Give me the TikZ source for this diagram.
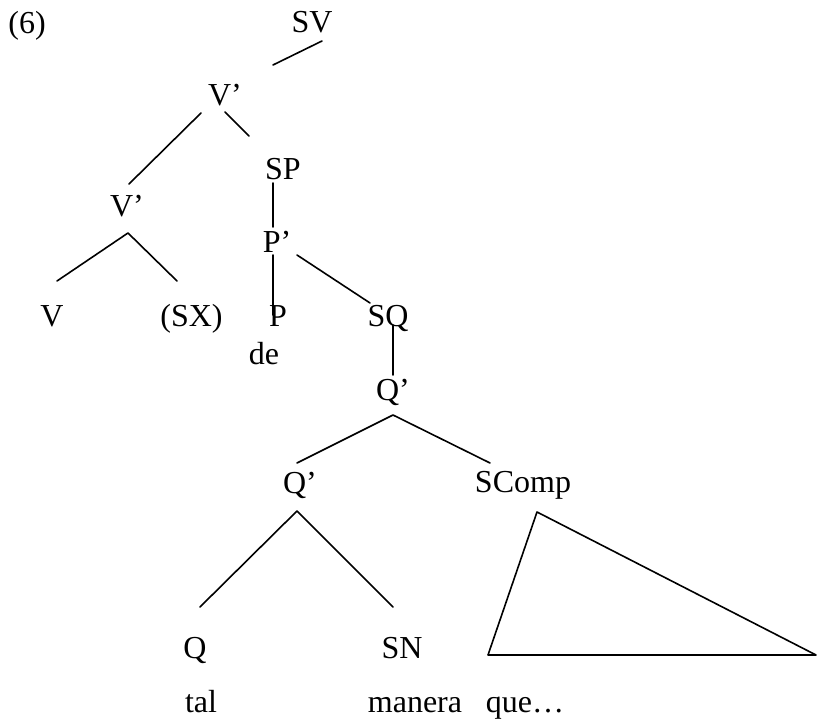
\documentclass[tikz,border=0pt]{standalone}
\usepackage{fontspec}
\setmainfont{Liberation Serif}
\begin{document}
\begin{tikzpicture}[x=1pt,y=1pt,
  lbl/.style={anchor=base,inner sep=0pt,font=\fontsize{32}{38}\selectfont},
  edge/.style={line width=1.6pt,line cap=round,line join=round}]
\useasboundingbox (0,0) rectangle (817,720);
% labels (x, 720 - baseline)
\node[lbl] (ex)   at (27,686) {(6)};
\node[lbl] (sv)   at (312,687) {SV};
\node[lbl] (vb1)  at (225,614) {V’};
\node[lbl] (sp)   at (283,540) {SP};
\node[lbl] (vb2)  at (127,503) {V’};
\node[lbl] (pb)   at (277,467) {P’};
\node[lbl] (v)    at (52,393) {V};
\node[lbl] (sx)   at (191.5,393) {(SX)};
\node[lbl] (p)    at (278,393) {P};
\node[lbl] (sq)   at (388,393) {SQ};
\node[lbl] (de)   at (264,355) {de};
\node[lbl] (qb1)  at (393,319) {Q’};
\node[lbl] (qb2)  at (300,226) {Q’};
\node[lbl] (scomp) at (523,227) {SComp};
\node[lbl] (q)    at (195,61) {Q};
\node[lbl] (sn)   at (402,61) {SN};
\node[lbl] (tal)  at (201,7.5) {tal};
\node[lbl] (man)  at (415,7.5) {manera};
\node[lbl] (que)  at (525,7.5) {que…};
% connector end points
\coordinate (svA) at (322,679);
\coordinate (svB) at (273,655);
\coordinate (vb1L) at (201,607);
\coordinate (vb2T) at (129,536);
\coordinate (vb1R) at (225,608);
\coordinate (spT) at (249,584);
\coordinate (vb2A) at (128,487);
\coordinate (vE) at (57,439);
\coordinate (sxE) at (177,439);
\coordinate (spB) at (273,537);
\coordinate (pbT) at (273,493);
\coordinate (pbB) at (273,465);
\coordinate (pT) at (273,405);
\coordinate (pbR) at (297,465);
\coordinate (sqT) at (370,417);
\coordinate (sqB) at (393,395);
\coordinate (qb1T) at (393,345);
\coordinate (qb1A) at (393,305);
\coordinate (qb2T) at (297,257);
\coordinate (scompT) at (490,257);
\coordinate (qb2A) at (297,209);
\coordinate (qT) at (200,113);
\coordinate (snT) at (393,113);
\coordinate (triA) at (537,208);
\coordinate (triL) at (488,65);
\coordinate (triR) at (816,65);
% connectors
\draw[edge] (svA) -- (svB);
\draw[edge] (vb1L) -- (vb2T);
\draw[edge] (vb1R) -- (spT);
\draw[edge] (vE) -- (vb2A) -- (sxE);
\draw[edge] (spB) -- (pbT);
\draw[edge] (pbB) -- (pT);
\draw[edge] (pbR) -- (sqT);
\draw[edge] (sqB) -- (qb1T);
\draw[edge] (qb2T) -- (qb1A) -- (scompT);
\draw[edge] (qT) -- (qb2A) -- (snT);
\draw[edge] (triA) -- (triL) -- (triR) -- cycle;
\end{tikzpicture}
\end{document}
